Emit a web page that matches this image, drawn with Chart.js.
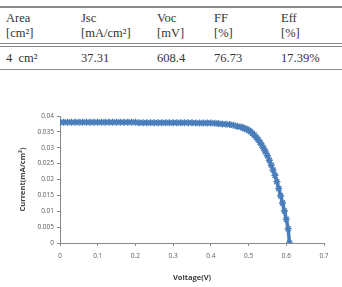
<!DOCTYPE html>
<html lang="en">
<head>
<meta charset="UTF-8">
<title>J-V curve</title>
<script src="https://cdn.jsdelivr.net/npm/chart.js"></script>
<style>
  body { margin: 0; width: 342px; height: 287px; background: #fff; position: relative; overflow: hidden; }
  .t { position: absolute; font-family: "Liberation Serif", serif; font-size: 12.5px; color: #333; white-space: pre; line-height: 1; }
  .ln { position: absolute; left: 0; width: 342px; background: #8a8a8a; }
  #wrap { position: absolute; left: 0; top: 100px; width: 342px; height: 187px; }
</style>
</head>
<body>

<div class="ln" style="top:6px;height:2px"></div>
<div class="ln" style="top:43px;height:1px"></div>
<div class="ln" style="top:46px;height:1px"></div>
<div class="ln" style="top:69px;height:1px"></div>
<div id="table"></div>

<div id="wrap"><canvas id="jv-chart"></canvas></div>

<script>
// table
var headTop = ['Area', 'Jsc', 'Voc', 'FF', 'Eff'];
var headUnit = ['[cm\u00b2]', '[mA/cm\u00b2]', '[mV]', '[%]', '[%]'];
var rowValues = ['4  cm\u00b2', '37.31', '608.4', '76.73', '17.39%'];
var colX = [6, 81, 157, 214, 281];

// curve
var voltage = [0, 0.01, 0.02, 0.03, 0.04, 0.05, 0.06, 0.07, 0.08, 0.09,
    0.10, 0.11, 0.12, 0.13, 0.14, 0.15, 0.16, 0.17, 0.18, 0.19,
    0.20, 0.21, 0.22, 0.23, 0.24, 0.25, 0.26, 0.27, 0.28, 0.29,
    0.30, 0.31, 0.32, 0.33, 0.34, 0.35, 0.36, 0.37, 0.38, 0.39,
    0.40, 0.41, 0.42, 0.43, 0.44, 0.45, 0.46, 0.47, 0.48, 0.485,
    0.49, 0.495, 0.50, 0.505, 0.51, 0.515, 0.52, 0.525, 0.53, 0.535,
    0.54, 0.545, 0.55, 0.555, 0.56, 0.565, 0.57, 0.575, 0.58, 0.585,
    0.59, 0.595, 0.60, 0.605, 0.6084];
var current = [0.0380, 0.0380, 0.0380, 0.0380, 0.0380, 0.0380, 0.0380, 0.0380, 0.0380, 0.0380,
    0.0380, 0.0380, 0.0380, 0.0380, 0.0380, 0.0380, 0.0380, 0.0380, 0.0380, 0.0380,
    0.0380, 0.0379, 0.0379, 0.0379, 0.0379, 0.0379, 0.0379, 0.0379, 0.0379, 0.0379,
    0.0379, 0.0379, 0.0379, 0.0379, 0.0379, 0.0379, 0.0378, 0.0378, 0.0378, 0.0378,
    0.0378, 0.0377, 0.0376, 0.0375, 0.0374, 0.0373, 0.0371, 0.0368, 0.0365, 0.0363,
    0.0361, 0.0358, 0.0355, 0.0351, 0.0346, 0.0340, 0.0333, 0.0326, 0.0317, 0.0308,
    0.0298, 0.0287, 0.0275, 0.0261, 0.0246, 0.0230, 0.0213, 0.0193, 0.0172, 0.0149,
    0.0126, 0.0101, 0.0075, 0.0045, 0.0];

var html = '';
for (var i = 0; i < headTop.length; i++) {
    html += '<div class="t" style="left:' + colX[i] + 'px;top:12px">' + headTop[i] + '</div>';
    html += '<div class="t" style="left:' + colX[i] + 'px;top:27px">' + headUnit[i] + '</div>';
    html += '<div class="t" style="left:' + colX[i] + 'px;top:52px">' + rowValues[i] + '</div>';
}
document.getElementById('table').innerHTML = html;

var points = voltage.map(function(v, i) {
    return { x: v, y: current[i] };
});

var blue = '#4A7EBB';
var axisGray = '#8c8c8c';
var tickFont = { family: 'Open Sans', size: 6.5 };

var ctx = document.getElementById('jv-chart').getContext('2d');
new Chart(ctx, {
    type: 'scatter',
    data: {
        datasets: [{
            data: points,
            showLine: true,
            borderColor: blue,
            borderWidth: 3.5,
            backgroundColor: blue,
            pointStyle: 'star',
            pointRadius: 3.5,
            pointBorderWidth: 1.5,
            pointBorderColor: blue
        }]
    },
    options: {
        responsive: true,
        maintainAspectRatio: false,
        animation: false,
        layout: { padding: { left: 14, right: 18, top: 16, bottom: 5 } },
        plugins: { legend: { display: false }, tooltip: { enabled: false } },
        scales: {
            x: {
                type: 'linear',
                min: 0,
                max: 0.7,
                ticks: {
                    stepSize: 0.1,
                    color: '#595959',
                    font: tickFont,
                    padding: 6,
                    callback: function(v) { return Math.round(v * 10) / 10; }
                },
                grid: { drawOnChartArea: false, tickLength: 3, color: axisGray },
                border: { color: axisGray },
                title: {
                    display: true,
                    text: 'Voltage(V)',
                    color: '#404040',
                    font: { family: 'Open Sans', size: 7.5, weight: 'bold' },
                    padding: { top: 0, bottom: 0 }
                },
                afterFit: function(s) { s.height = 39; }
            },
            y: {
                min: 0,
                max: 0.04,
                ticks: {
                    stepSize: 0.005,
                    color: '#595959',
                    font: tickFont,
                    padding: 3,
                    callback: function(v) { return Math.round(v * 1000) / 1000; }
                },
                grid: { drawOnChartArea: false, tickLength: 3, color: axisGray },
                border: { color: axisGray },
                title: {
                    display: true,
                    text: 'Current(mA/cm\u00b2)',
                    color: '#404040',
                    font: { family: 'Open Sans', size: 7.5, weight: 'bold' },
                    padding: { top: 4, bottom: 0 }
                },
                afterFit: function(s) { s.width = 46; }
            }
        }
    }
});
</script>

</body>
</html>
